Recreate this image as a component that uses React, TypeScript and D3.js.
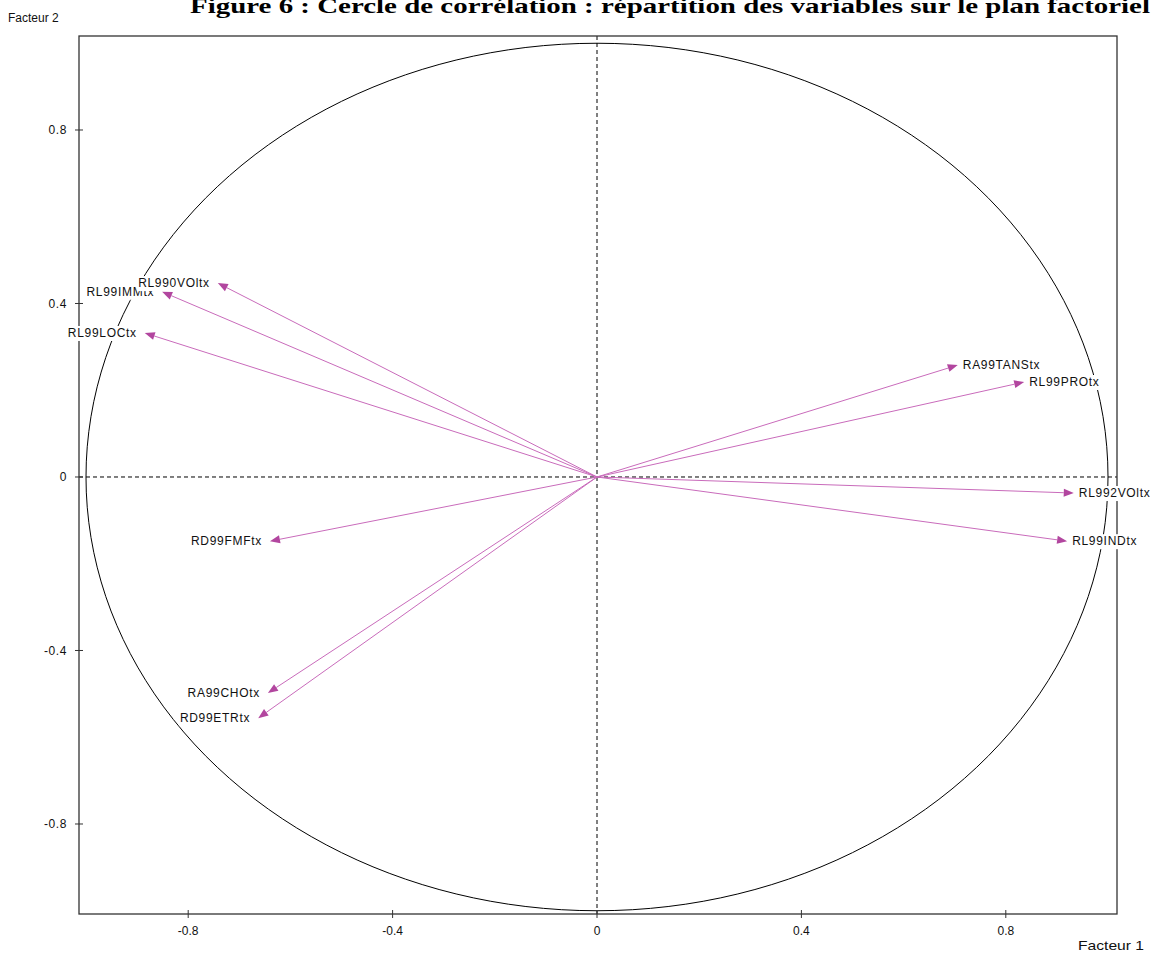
import React, { useEffect, useRef } from "react";
import * as d3 from "d3";

const variables = [
  "RL99IMMtx",
  "RL990VOltx",
  "RL99LOCtx",
  "RA99TANStx",
  "RL99PROtx",
  "RL992VOltx",
  "RL99INDtx",
  "RD99FMFtx",
  "RA99CHOtx",
  "RD99ETRtx",
];
const factor1 = [-0.851, -0.742, -0.885, 0.706, 0.836, 0.933, 0.92, -0.64, -0.644, -0.663];
const factor2 = [0.427, 0.447, 0.332, 0.258, 0.219, -0.037, -0.148, -0.148, -0.498, -0.556];
const xTicks = [-0.8, -0.4, 0, 0.4, 0.8];
const yTicks = [-0.8, -0.4, 0, 0.4, 0.8];
const tickLabels = ["-0.8", "-0.4", "0", "0.4", "0.8"];
const titleText = "Figure 6 : Cercle de corrélation : répartition des variables sur le plan factoriel";

const W = 1156;
const H = 953;

export default function App() {
  const ref = useRef<SVGSVGElement>(null);

  useEffect(() => {
    const svg = d3.select(ref.current);
    svg.selectAll("*").remove();

    const left = 79, right = 1117, top = 36, bottom = 914;
    const x = d3.scaleLinear().domain([-1.0137, 1.0176]).range([left, right]);
    const y = d3.scaleLinear().domain([-1.0075, 1.0167]).range([bottom, top]);
    const font = "'Liberation Sans', Arial, sans-serif";

    svg.append("rect").attr("width", W).attr("height", H).attr("fill", "#fff");

    // title (cut at top as in the reference)
    svg.append("text")
      .attr("x", 190).attr("y", 13)
      .attr("font-family", "'Liberation Serif', 'Times New Roman', serif")
      .attr("font-weight", "bold").attr("font-size", 22)
      .attr("textLength", 960).attr("lengthAdjust", "spacingAndGlyphs")
      .text(titleText);

    // circle
    const circ = d3.range(0, 361, 2).map((a) => [Math.cos((a * Math.PI) / 180), Math.sin((a * Math.PI) / 180)] as [number, number]);
    svg.append("path")
      .attr("d", d3.line<[number, number]>().x((d) => x(d[0])).y((d) => y(d[1]))(circ)!)
      .attr("fill", "none").attr("stroke", "#000").attr("stroke-width", 1);

    // dashed axes
    svg.append("line")
      .attr("x1", x(0)).attr("x2", x(0)).attr("y1", top).attr("y2", bottom)
      .attr("stroke", "#000").attr("stroke-dasharray", "4,3");
    svg.append("line")
      .attr("x1", left).attr("x2", right).attr("y1", y(0)).attr("y2", y(0))
      .attr("stroke", "#000").attr("stroke-dasharray", "4,3");

    // frame
    svg.append("rect")
      .attr("x", left).attr("y", top).attr("width", right - left).attr("height", bottom - top)
      .attr("fill", "none").attr("stroke", "#333").attr("stroke-width", 1.3);

    // x ticks
    const gx = svg.append("g");
    xTicks.forEach((t, i) => {
      gx.append("line").attr("x1", x(t)).attr("x2", x(t)).attr("y1", bottom - 4).attr("y2", bottom + 4).attr("stroke", "#333");
      gx.append("text").attr("x", x(t)).attr("y", 935).attr("text-anchor", "middle")
        .attr("font-family", font).attr("font-size", 12).attr("fill", "#111")
        .text(tickLabels[i]);
    });
    // y ticks
    const gy = svg.append("g");
    yTicks.forEach((t, i) => {
      gy.append("line").attr("x1", left - 4).attr("x2", left + 4).attr("y1", y(t)).attr("y2", y(t)).attr("stroke", "#333");
      gy.append("text").attr("x", 67).attr("y", y(t)).attr("dy", "0.35em").attr("text-anchor", "end")
        .attr("font-family", font).attr("font-size", 12).attr("letter-spacing", 0.6).attr("fill", "#111")
        .text(tickLabels[i]);
    });

    svg.append("text").attr("x", 8).attr("y", 22).attr("font-family", font).attr("font-size", 12)
      .attr("fill", "#111").text("Facteur 2");
    svg.append("text").attr("x", 1078).attr("y", 950).attr("font-family", font).attr("font-size", 13)
      .attr("textLength", 66).attr("lengthAdjust", "spacingAndGlyphs")
      .attr("fill", "#111").text("Facteur 1");

    // arrows
    const ga = svg.append("g");
    variables.forEach((v, i) => {
      const tx = x(factor1[i]), ty = y(factor2[i]);
      const ox = x(0), oy = y(0);
      const ang = Math.atan2(ty - oy, tx - ox);
      const L = 10, hw = 4;
      const bx = tx - L * Math.cos(ang), by = ty - L * Math.sin(ang);
      ga.append("line").attr("x1", ox).attr("y1", oy).attr("x2", bx).attr("y2", by)
        .attr("stroke", "#c96bbb").attr("stroke-width", 1);
      const px = -Math.sin(ang) * hw, py = Math.cos(ang) * hw;
      ga.append("path")
        .attr("d", `M${tx},${ty}L${bx + px},${by + py}L${bx - px},${by - py}Z`)
        .attr("fill", "#b2469f");
    });

    // labels with white backgrounds
    const gl = svg.append("g");
    variables.forEach((v, i) => {
      const tx = x(factor1[i]), ty = y(factor2[i]);
      const isLeft = factor1[i] < 0;
      const g = gl.append("g");
      const bg = g.append("rect").attr("fill", "#fff");
      const txt = g.append("text")
        .attr("x", isLeft ? tx - 8 : tx + 5).attr("y", ty).attr("dy", "0.35em")
        .attr("text-anchor", isLeft ? "end" : "start")
        .attr("font-family", font).attr("font-size", 12).attr("letter-spacing", 0.7)
        .attr("fill", "#111").text(v);
      const bb = (txt.node() as SVGTextElement).getBBox();
      bg.attr("x", bb.x - 1).attr("y", ty - 7).attr("width", bb.width + 2).attr("height", 15);
    });
  }, []);

  return (
    <svg ref={ref} width={W} height={H} style={{ position: "absolute", left: 0, top: 0 }} />
  );
}
